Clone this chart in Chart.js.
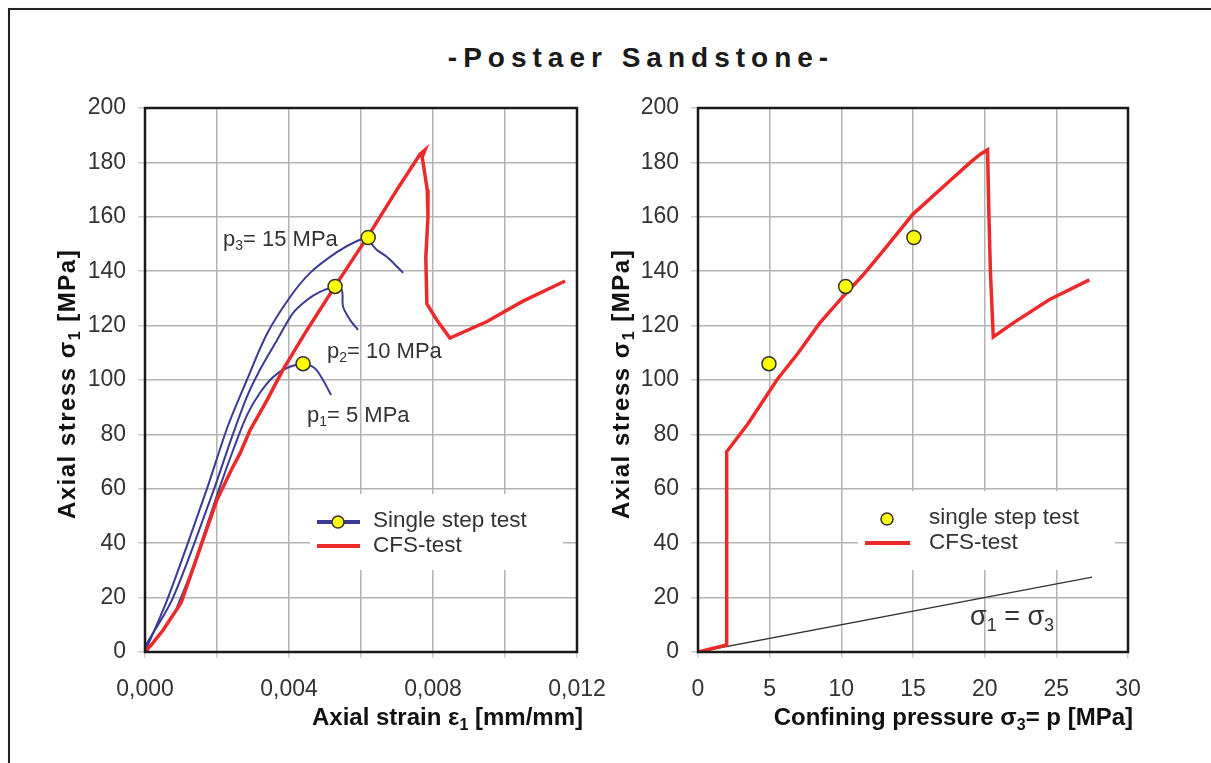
<!DOCTYPE html>
<html>
<head>
<meta charset="utf-8">
<script src="https://cdn.jsdelivr.net/npm/chart.js@4.4.1/dist/chart.umd.min.js"></script>
<style>
    html, body { margin: 0; padding: 0; background: #fff; }
    body { width: 1211px; height: 763px; position: relative; overflow: hidden; }
    #frame { position: absolute; left: 8px; top: 8px; width: 1230px; height: 800px; border: 2px solid #222; box-shadow: 1px 1px 2px #999; }
    #title { position: absolute; left: 0; width: 1282px; top: 42px; text-align: center; font: bold 28px "Liberation Sans", Arial, sans-serif; letter-spacing: 6px; color: #1a1a1a; }
    #leftBox { position: absolute; left: 0; top: 0; width: 610px; height: 763px; }
    #rightBox { position: absolute; left: 600px; top: 0; width: 611px; height: 763px; }
</style>
</head>
<body>
<div id="frame"></div>
<div id="title">-Postaer Sandstone-</div>
<div id="leftBox"><canvas id="strainChart"></canvas></div>
<div id="rightBox"><canvas id="pressureChart"></canvas></div>
<script>
// CFS test, axial strain vs axial stress
const cfsStrain = [0, 0.0002, 0.0005, 0.001, 0.0015, 0.002, 0.0024, 0.00264, 0.00292, 0.00339, 0.00383, 0.0045, 0.00528, 0.0062, 0.0070, 0.00764, 0.00778, 0.0077, 0.00784, 0.00786, 0.0078, 0.00783, 0.00811, 0.00847, 0.0095, 0.0105, 0.01167];
const cfsStress = [0, 3, 8, 18, 37, 56, 67, 73, 81.6, 92.6, 103.7, 118.4, 134.5, 153, 170, 183, 184.6, 182, 170, 160, 145, 128, 122, 115.4, 121.5, 129, 136.4];

// single step tests
const p1Strain = [0.00089, 0.0013, 0.00206, 0.00247, 0.00283, 0.00319, 0.00356, 0.00394, 0.00439, 0.0047, 0.0049, 0.00517];
const p1Stress = [16.5, 30, 60, 75, 87, 95.2, 101.1, 104.4, 105.9, 104.5, 101, 94.5];
const p2Strain = [0, 0.00078, 0.00192, 0.00236, 0.00283, 0.00319, 0.00367, 0.00411, 0.0045, 0.00486, 0.00528, 0.00547, 0.0055, 0.0057, 0.00592];
const p2Stress = [2, 20, 60, 77, 93.8, 103.7, 114.7, 124.6, 129.4, 132.4, 134.2, 133, 127, 122, 118.4];
const p3Strain = [0, 0.00064, 0.00172, 0.0023, 0.00283, 0.00339, 0.00403, 0.00458, 0.00533, 0.00589, 0.0062, 0.0063, 0.00644, 0.0067, 0.0069, 0.00717];
const p3Stress = [0, 20, 60, 83, 100, 117, 130.5, 139.3, 147, 151.1, 152.2, 150, 147.8, 145.5, 143, 139.4];

// peak points of the single step tests
const peakStrain = [0.00439, 0.00528, 0.0062];
const peakPressure = [4.95, 10.3, 15.06];
const peakStress = [106, 134.4, 152.4];

// CFS test, confining pressure vs axial stress
const cfsPressure = [0, 1, 2.0, 2.0, 3.5, 5.5, 7, 8.5, 10, 11.5, 13, 15, 17.4, 19, 19.7, 20.2, 20.3, 20.4, 20.6, 22, 24.5, 27.3];
const cfsStressP = [0, 1.3, 2.6, 73.6, 84, 100, 110, 121, 130, 138.5, 148, 161, 172.4, 180, 183, 184.6, 160, 140, 115.8, 121, 129.5, 136.8];

// sigma1 = sigma3 line
const equalPressure = [0, 27.5];
const equalStress = [0, 27.5];

const FONT = '"Liberation Sans", Arial, sans-serif';
const RED = '#ec2a2a';
const BLUE = '#3a3b94';
const GRID = '#b4b4b4';
const TEXT = '#333';

const pairs = (xs, ys) => xs.map((x, i) => ({ x: x, y: ys[i] }));

// draws text with subscript parts: [[text, isSub], ...]
function richText(ctx, parts, x, y, size, bold, align) {
    const base = (bold ? 'bold ' : '') + size + 'px ' + FONT;
    const small = (bold ? 'bold ' : '') + Math.round(size * 0.65) + 'px ' + FONT;
    let w = 0;
    parts.forEach(([t, s]) => { ctx.font = s ? small : base; w += ctx.measureText(t).width; });
    let cx = align === 'right' ? x - w : align === 'center' ? x - w / 2 : x;
    ctx.textAlign = 'left';
    ctx.textBaseline = 'middle';
    parts.forEach(([t, s]) => {
        ctx.font = s ? small : base;
        ctx.fillText(t, cx, s ? y + size * 0.3 : y);
        cx += ctx.measureText(t).width;
    });
}

function rotatedText(ctx, parts, x, y, size) {
    ctx.save();
    ctx.translate(x, y);
    ctx.rotate(-Math.PI / 2);
    ctx.letterSpacing = '1.5px';
    richText(ctx, parts, 0, 0, size, true, 'center');
    ctx.restore();
}

function frameBox(chart) {
    const a = chart.chartArea;
    const ctx = chart.ctx;
    ctx.save();
    ctx.strokeStyle = '#1a1a1a';
    ctx.lineWidth = 2.5;
    ctx.strokeRect(a.left, a.top, a.right - a.left, a.bottom - a.top);
    ctx.restore();
}

function scaleOpts(min, max, step, width, fmt) {
    return {
        x: {
            type: 'linear', min: min, max: max,
            afterFit: (s) => { s.height = 111; s.paddingLeft = 0; s.paddingRight = 0; },
            grid: { color: GRID, lineWidth: 1.5, tickLength: 6, tickColor: '#ccc' },
            border: { display: false },
            ticks: { stepSize: step, autoSkip: false, maxRotation: 0, padding: 18, color: TEXT, font: { family: FONT, size: 23 }, callback: fmt }
        },
        y: {
            type: 'linear', min: 0, max: 200,
            afterFit: (s) => { s.width = width; s.paddingTop = 0; s.paddingBottom = 0; },
            grid: { color: GRID, lineWidth: 1.5, tickLength: 7, tickColor: '#ccc' },
            border: { display: false },
            ticks: { stepSize: 20, padding: 12, color: TEXT, font: { family: FONT, size: 23 } }
        }
    };
}

const leftDecor = {
    id: 'leftDecor',
    beforeDatasetsDraw(chart) {
        const ctx = chart.ctx;
        ctx.save();
        ctx.fillStyle = '#fff';
        ctx.fillRect(310, 494, 253, 76);
        ctx.restore();
    },
    afterDraw(chart) {
        const ctx = chart.ctx;
        frameBox(chart);
        ctx.save();
        ctx.fillStyle = '#111';
        rotatedText(ctx, [['Axial stress σ', 0], ['1', 1], [' [MPa]', 0]], 68, 384, 24);
        richText(ctx, [['Axial strain ε', 0], ['1', 1], [' [mm/mm]', 0]], 583, 718, 24, true, 'right');

        ctx.fillStyle = TEXT;
        richText(ctx, [['p', 0], ['3', 1], ['= 15 MPa', 0]], 223, 240, 22, false, 'left');
        richText(ctx, [['p', 0], ['2', 1], ['= 10 MPa', 0]], 327, 352, 22, false, 'left');
        richText(ctx, [['p', 0], ['1', 1], ['= 5 MPa', 0]], 307, 416, 22, false, 'left');

        // legend
        ctx.lineWidth = 4;
        ctx.strokeStyle = BLUE;
        ctx.beginPath(); ctx.moveTo(317, 522); ctx.lineTo(360, 522); ctx.stroke();
        ctx.fillStyle = '#ffff00';
        ctx.strokeStyle = '#333';
        ctx.lineWidth = 1.5;
        ctx.beginPath(); ctx.arc(338, 522, 6, 0, Math.PI * 2); ctx.fill(); ctx.stroke();
        ctx.lineWidth = 4;
        ctx.strokeStyle = RED;
        ctx.beginPath(); ctx.moveTo(317, 546); ctx.lineTo(360, 546); ctx.stroke();
        ctx.fillStyle = TEXT;
        richText(ctx, [['Single step test', 0]], 373, 521, 22.5, false, 'left');
        richText(ctx, [['CFS-test', 0]], 373, 546, 22.5, false, 'left');
        ctx.restore();
    }
};

const rightDecor = {
    id: 'rightDecor',
    beforeDatasetsDraw(chart) {
        const ctx = chart.ctx;
        ctx.save();
        ctx.fillStyle = '#fff';
        ctx.fillRect(258, 491, 257, 79);
        ctx.restore();
    },
    afterDraw(chart) {
        const ctx = chart.ctx;
        frameBox(chart);
        ctx.save();
        ctx.fillStyle = '#111';
        rotatedText(ctx, [['Axial stress σ', 0], ['1', 1], [' [MPa]', 0]], 22, 384, 24);
        richText(ctx, [['Confining pressure σ', 0], ['3', 1], ['= p [MPa]', 0]], 533, 718, 24, true, 'right');

        ctx.fillStyle = TEXT;
        richText(ctx, [['σ', 0], ['1', 1], [' = σ', 0], ['3', 1]], 370, 618, 27, false, 'left');

        // legend
        ctx.fillStyle = '#ffff00';
        ctx.strokeStyle = '#333';
        ctx.lineWidth = 1.5;
        ctx.beginPath(); ctx.arc(287, 519, 6, 0, Math.PI * 2); ctx.fill(); ctx.stroke();
        ctx.lineWidth = 4;
        ctx.strokeStyle = RED;
        ctx.beginPath(); ctx.moveTo(265, 543); ctx.lineTo(310, 543); ctx.stroke();
        ctx.fillStyle = TEXT;
        richText(ctx, [['single step test', 0]], 329, 518, 22.5, false, 'left');
        richText(ctx, [['CFS-test', 0]], 329, 543, 22.5, false, 'left');
        ctx.restore();
    }
};

const pointStyle = {
    type: 'scatter',
    backgroundColor: '#ffff00',
    borderColor: '#333',
    borderWidth: 1.5,
    pointRadius: 7,
    pointHoverRadius: 7,
    showLine: false
};

const blueLine = (xs, ys) => ({
    type: 'line',
    data: pairs(xs, ys),
    borderColor: BLUE,
    borderWidth: 2,
    pointRadius: 0,
    tension: 0.3,
    fill: false
});

new Chart(document.getElementById('strainChart'), {
    type: 'line',
    data: {
        datasets: [
            Object.assign({ data: pairs(peakStrain, peakStress) }, pointStyle),
            { data: pairs(cfsStrain, cfsStress), borderColor: RED, borderWidth: 3.5, pointRadius: 0, tension: 0, fill: false },
            blueLine(p1Strain, p1Stress),
            blueLine(p2Strain, p2Stress),
            blueLine(p3Strain, p3Stress)
        ]
    },
    options: {
        responsive: true,
        maintainAspectRatio: false,
        animation: false,
        layout: { padding: { top: 108, right: 33, left: 0, bottom: 0 } },
        scales: scaleOpts(0, 0.012, 0.002, 145, (v) => {
            const k = Math.round(v * 1000);
            return k % 4 === 0 ? (k / 1000).toFixed(3).replace('.', ',') : '';
        }),
        plugins: { legend: { display: false }, tooltip: { enabled: false } }
    },
    plugins: [leftDecor]
});

new Chart(document.getElementById('pressureChart'), {
    type: 'line',
    data: {
        datasets: [
            Object.assign({ data: pairs(peakPressure, peakStress) }, pointStyle),
            { data: pairs(cfsPressure, cfsStressP), borderColor: RED, borderWidth: 3.5, pointRadius: 0, tension: 0, fill: false },
            { data: pairs(equalPressure, equalStress), borderColor: '#333', borderWidth: 1.3, pointRadius: 0, fill: false }
        ]
    },
    options: {
        responsive: true,
        maintainAspectRatio: false,
        animation: false,
        layout: { padding: { top: 108, right: 83, left: 0, bottom: 0 } },
        scales: scaleOpts(0, 30, 5, 98, (v) => String(v)),
        plugins: { legend: { display: false }, tooltip: { enabled: false } }
    },
    plugins: [rightDecor]
});
</script>
</body>
</html>
